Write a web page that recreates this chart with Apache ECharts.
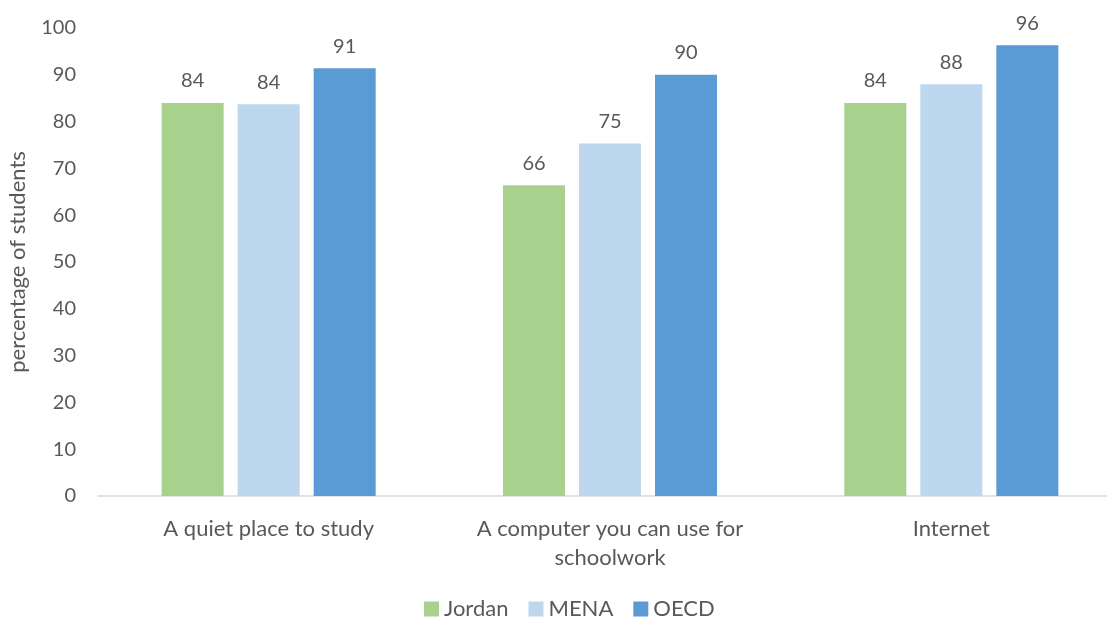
<!DOCTYPE html>
<html><head><meta charset="utf-8">
<script src="https://cdn.jsdelivr.net/npm/echarts@6/dist/echarts.min.js"></script>
<style>html,body{margin:0;padding:0;background:#fff;overflow:hidden;width:1107px;height:619px}#c{width:1125px;height:619px}</style>
</head><body><div id="c"></div>
<script>
const categories = ["A quiet place to study", "A computer you can use for\nschoolwork", "Internet"];
const jordan = [84.0, 66.4, 84.0];
const mena = [83.7, 75.3, 88.0];
const oecd = [91.4, 90.0, 96.3];
const yTicks = [0, 10, 20, 30, 40, 50, 60, 70, 80, 90, 100];

const font = "Lato, 'Open Sans', sans-serif";
const txt = '#595959';
const chart = echarts.init(document.getElementById('c'));
const lbl = {show: true, position: 'top', distance: 12, color: txt, fontSize: 20, fontFamily: font,
  formatter: p => Math.round(p.value)};
chart.setOption({
  animation: false,
  grid: {left: 98, top: 28, width: 1024, height: 468, containLabel: false, outerBoundsMode: 'none'},
  legend: {top: 593, left: 419, padding: 5, icon: 'rect', itemWidth: 15, itemHeight: 15, itemGap: 20,
    textStyle: {color: txt, fontSize: 22, fontFamily: font},
    data: ['Jordan', 'MENA', 'OECD']},
  xAxis: {type: 'category', data: categories,
    axisLine: {lineStyle: {color: '#d9d9d9', width: 1.5}},
    axisTick: {show: false},
    axisLabel: {color: txt, fontSize: 22, fontFamily: font, margin: 18, lineHeight: 29, interval: 0}},
  yAxis: {type: 'value', min: yTicks[0], max: yTicks[yTicks.length - 1], interval: 10,
    name: 'percentage of students', nameLocation: 'middle', nameGap: 69, nameRotate: 90,
    nameTextStyle: {color: txt, fontSize: 22, fontFamily: font},
    splitLine: {show: false}, axisLine: {show: false}, axisTick: {show: false},
    axisLabel: {color: txt, fontSize: 20, fontFamily: font, margin: 22}},
  series: [
    {name: 'Jordan', type: 'bar', data: jordan, barWidth: 62, barGap: '22.6%', itemStyle: {color: '#A9D18E'}, label: lbl},
    {name: 'MENA', type: 'bar', data: mena, barWidth: 62, barGap: '22.6%', itemStyle: {color: '#BDD7EE'}, label: lbl},
    {name: 'OECD', type: 'bar', data: oecd, barWidth: 62, barGap: '22.6%', itemStyle: {color: '#5B9BD5'}, label: lbl}
  ]
});
</script></body></html>
